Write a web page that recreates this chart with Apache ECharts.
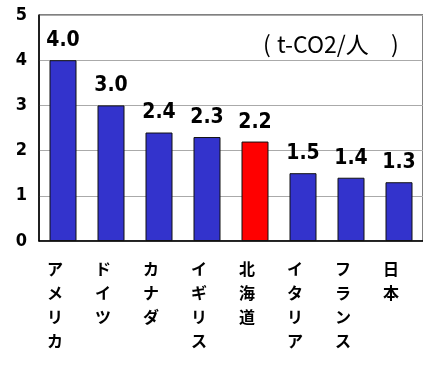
<!DOCTYPE html>
<html>
<head>
<meta charset="utf-8">
<script src="https://cdn.jsdelivr.net/npm/echarts@6/dist/echarts.min.js"></script>
<style>
  html, body { margin: 0; padding: 0; background: #fff; }
  #chart { width: 423px; height: 365px; }
</style>
</head>
<body>
<div id="chart"></div>
<script>
  // 一人当たりCO2排出量
  const categories = ['アメリカ', 'ドイツ', 'カナダ', 'イギリス', '北海道', 'イタリア', 'フランス', '日本']
  const values = [4.0, 3.0, 2.4, 2.3, 2.2, 1.5, 1.4, 1.3]
  const highlight = '北海道'
  const unitText = 't-CO2/人'

  const numFont = '"DejaVu Sans Condensed", "Liberation Sans Narrow", sans-serif'
  const unitStyle = {fontSize: 23, fontFamily: 'Noto Sans CJK JP', fill: '#000'}
  const chart = echarts.init(document.getElementById('chart'))

  chart.setOption({
    animation: false,
    grid: {
      left: 39,
      top: 15,
      width: 392,
      height: 226,
      show: true,
      borderColor: '#000',
      borderWidth: 1
    },
    // 単位ラベル（全角カッコ幅を再現するため分割）
    graphic: [
      {type: 'text', left: 263, top: 33, style: Object.assign({text: '('}, unitStyle)},
      {type: 'text', left: 277, top: 33, style: Object.assign({text: unitText}, unitStyle)},
      {type: 'text', left: 391, top: 33, style: Object.assign({text: ')'}, unitStyle)}
    ],
    xAxis: {
      type: 'category',
      data: categories,
      axisLine: {lineStyle: {color: '#000', width: 1.5}},
      axisTick: {show: false},
      axisLabel: {
        interval: 0,
        margin: 16,
        padding: [0, 16, 0, 0],
        lineHeight: 24,
        fontSize: 16,
        fontWeight: 'bold',
        fontFamily: 'Noto Sans CJK JP',
        color: '#000',
        formatter: v => v.split('').join('\n')
      }
    },
    yAxis: {
      type: 'value',
      min: 0,
      max: 5,
      interval: 1,
      axisLine: {show: true, lineStyle: {color: '#000', width: 1.5}},
      axisTick: {show: false},
      splitLine: {lineStyle: {color: '#aaa', width: 1}},
      axisLabel: {
        margin: 12,
        fontSize: 18,
        fontWeight: 'bold',
        fontFamily: numFont,
        color: '#000'
      }
    },
    series: [{
      type: 'bar',
      data: values.map((v, i) => ({
        value: v,
        itemStyle: {color: categories[i] === highlight ? '#FF0000' : '#3333CC'}
      })),
      barWidth: 27,
      itemStyle: {borderColor: '#111', borderWidth: 1},
      label: {
        show: true,
        position: 'top',
        distance: 9,
        formatter: p => p.value.toFixed(1),
        fontSize: 21,
        fontWeight: 'bold',
        fontFamily: numFont,
        color: '#000'
      }
    }]
  })
</script>
</body>
</html>
